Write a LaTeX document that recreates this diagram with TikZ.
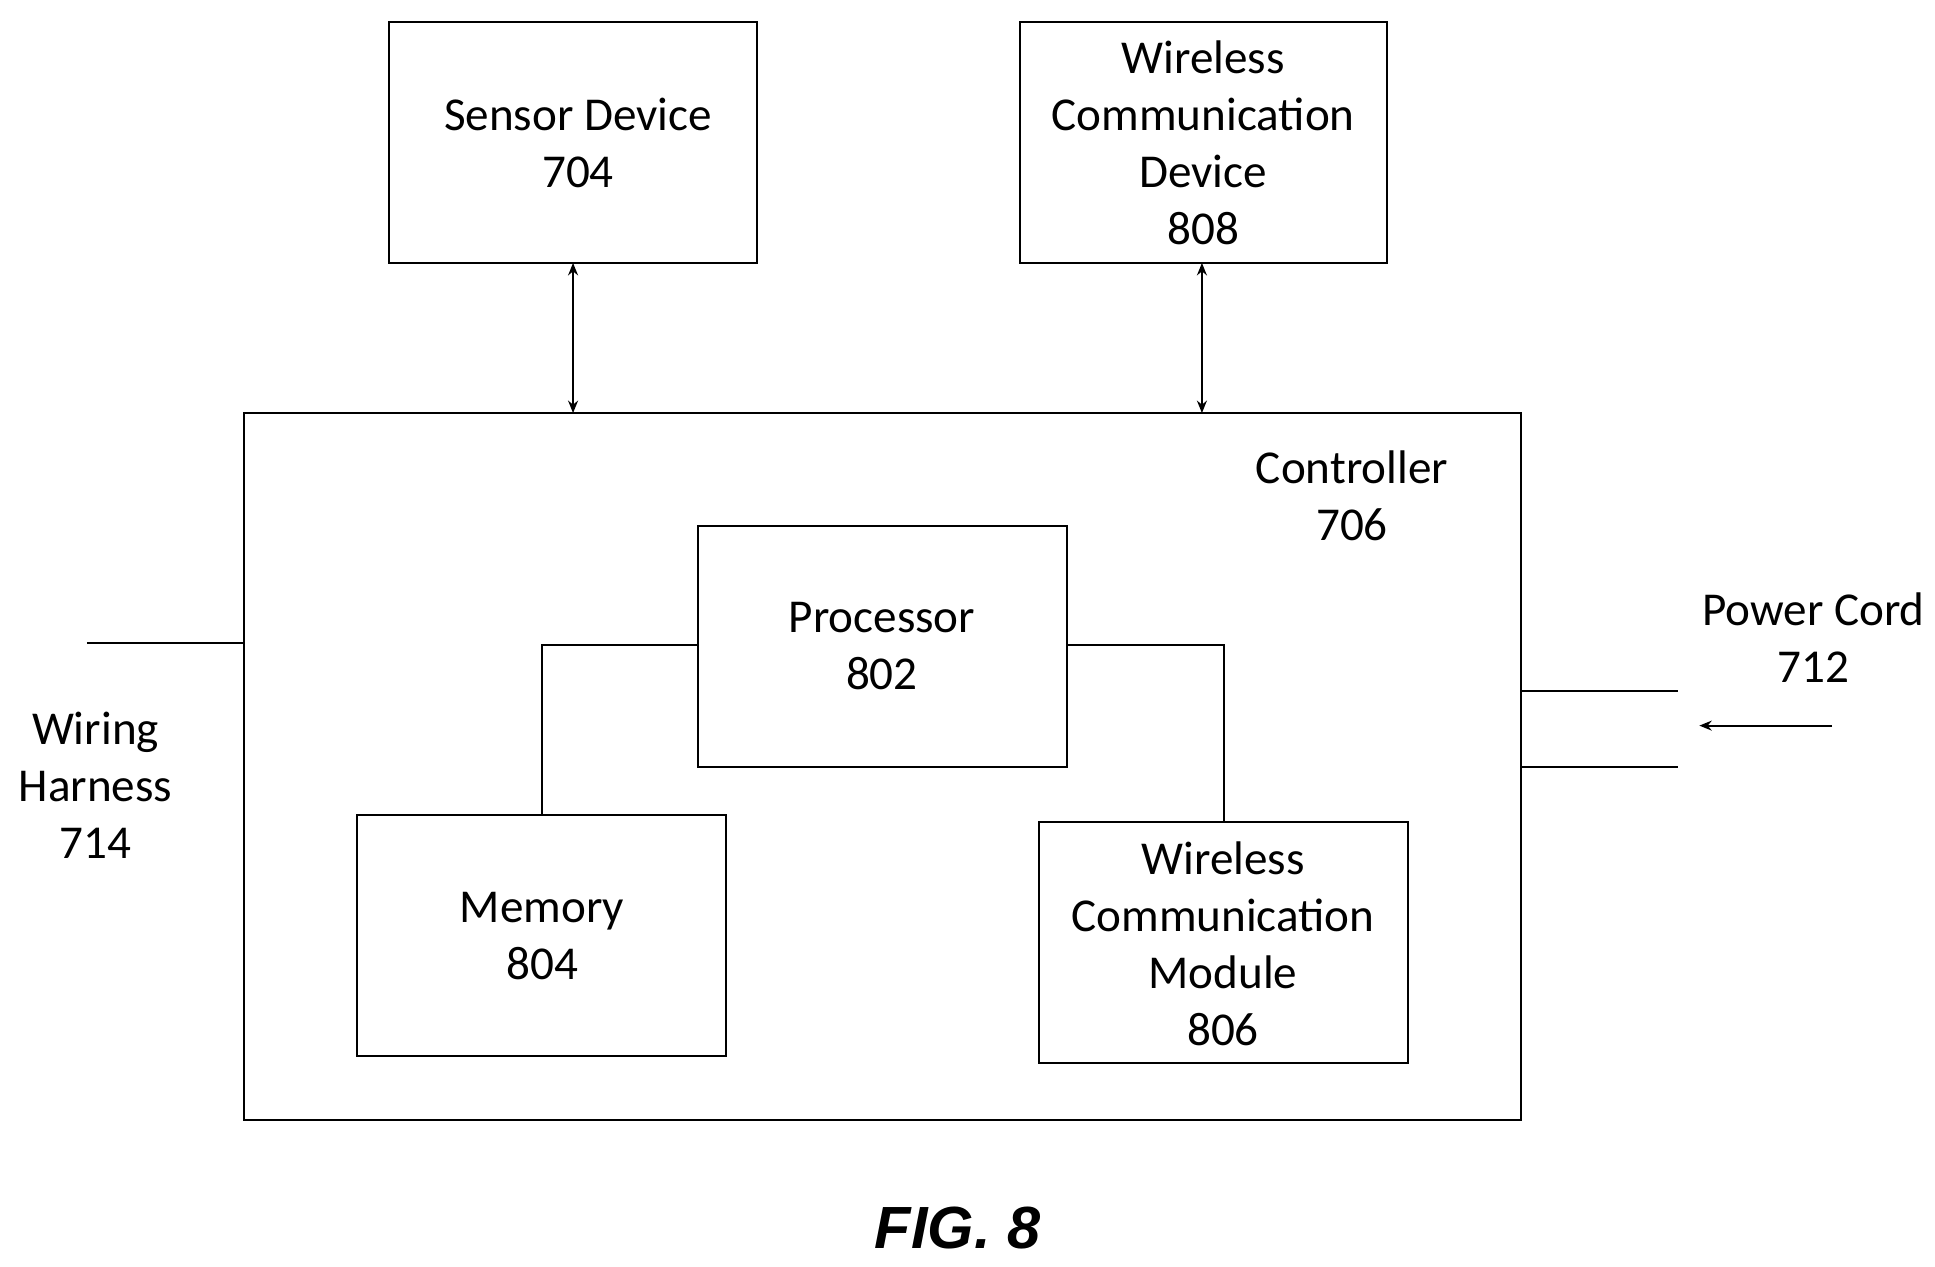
\documentclass[tikz,border=0pt]{standalone}
\usepackage{fontspec}
\setmainfont{Carlito}
\newfontfamily\figfont{Liberation Sans}
\usetikzlibrary{arrows.meta}
\begin{document}
\begin{tikzpicture}[x=0.5pt,y=-0.5pt,line width=0.8pt,
  box/.style={draw,rectangle},
  lbl/.style={align=center,font=\fontsize{19}{23}\selectfont,inner sep=0pt},
  arr/.style={-{Stealth[length=5pt,width=4pt]}},
  darr/.style={{Stealth[length=5pt,width=4pt]}-{Stealth[length=5pt,width=4pt]}}]
\useasboundingbox (0,0) rectangle (1560,1021);
\draw[box] (314,18) rectangle (610,212);
\node[lbl] (sd) at (466,115) {Sensor Device\\704};
\draw[box] (822,18) rectangle (1118,212);
\node[lbl] (wcd) at (970,115) {Wireless\\Communication\\Device\\808};
\draw[box] (197,333) rectangle (1226,903);
\node[lbl] (ctl) at (1090,400) {Controller\\706};
\draw[box] (563,424) rectangle (860,618);
\node[lbl] (proc) at (711,521) {Processor\\802};
\draw[box] (288,657) rectangle (585,851);
\node[lbl] (mem) at (437,755) {Memory\\804};
\draw[box] (838,663) rectangle (1135,857);
\node[lbl] (wcm) at (986,761) {Wireless\\Communication\\Module\\806};
\coordinate (s1) at (462,212); \coordinate (s2) at (462,333);
\coordinate (w1) at (969,212); \coordinate (w2) at (969,333);
\draw[darr] (s1) -- (s2);
\draw[darr] (w1) -- (w2);
\coordinate (pl) at (563,520); \coordinate (pr) at (860,520);
\coordinate (mt) at (437,657); \coordinate (wt) at (987,663);
\draw (pl) -| (mt);
\draw (pr) -| (wt);
\coordinate (h1) at (70,518); \coordinate (h2) at (197,518);
\draw (h1) -- (h2);
\node[lbl] (wh) at (77,633) {Wiring\\Harness\\714};
\coordinate (p1) at (1226,557); \coordinate (p2) at (1353,557);
\coordinate (p3) at (1226,618); \coordinate (p4) at (1353,618);
\draw (p1) -- (p2); \draw (p3) -- (p4);
\coordinate (a1) at (1477,585); \coordinate (a2) at (1370,585);
\draw[arr] (a1) -- (a2);
\node[lbl] (pc) at (1462,514) {Power Cord\\712};
\node[inner sep=0pt,font=\figfont\bfseries\itshape\fontsize{24}{28}\selectfont] (fig) at (772,990) {FIG. 8};
\end{tikzpicture}
\end{document}
